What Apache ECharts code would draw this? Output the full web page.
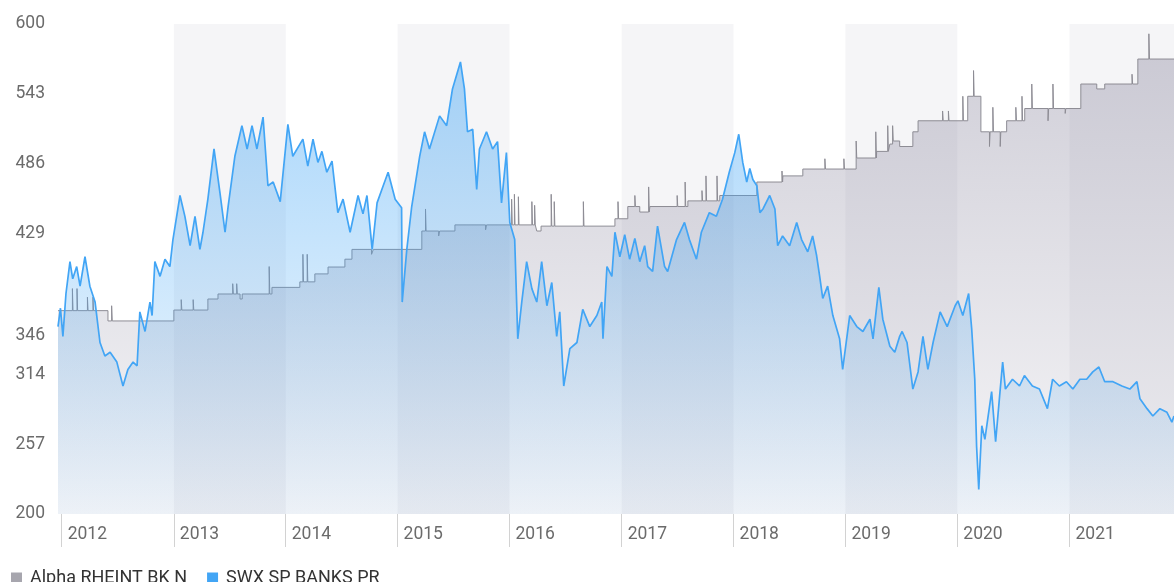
<!DOCTYPE html>
<html><head><meta charset="utf-8">
<script src="https://cdn.jsdelivr.net/npm/echarts@6/dist/echarts.min.js"></script>
<style>html,body{margin:0;padding:0;background:#fff}#c{width:1174px;height:582px}</style>
</head><body><div id="c"></div>
<script>
// ---- data ----
const seriesNames = ['Alpha RHEINT BK N', 'SWX SP BANKS PR'];
const yLabels = [200, 257, 314, 346, 429, 486, 543, 600];
const yearLabels = ['2012','2013','2014','2015','2016','2017','2018','2019','2020','2021'];
const shadedYears = ['2013','2015','2017','2019','2021'];
const xStart = '2011-12-20';
const xEnd = '2021-12-08';

const alphaRheint = [
['2011-12-20',366],
['2012-02-05',384],['2012-02-07',366],['2012-02-20',384],['2012-02-22',366],
['2012-03-25',377],['2012-03-27',366],['2012-04-12',377],['2012-04-14',366],
['2012-05-31',357.6],['2012-06-12',370],['2012-06-14',357.6],
['2013-01-01',366.5],['2013-01-25',375],['2013-01-27',366.5],['2013-03-05',375],['2013-03-07',366.5],
['2013-04-22',375.5],['2013-05-25',379.6],
['2013-07-12',388],['2013-07-14',379.6],['2013-07-25',388],['2013-07-27',379.6],
['2013-08-05',375.5],['2013-08-12',379.6],['2013-11-08',402],['2013-11-10',379.6],
['2013-11-17',385],['2014-02-16',389.5],
['2014-02-26',412],['2014-02-28',389.5],['2014-03-12',412],['2014-03-14',389.5],
['2014-04-06',396],['2014-05-19',401.6],['2014-07-13',408],['2014-08-05',416],
['2014-10-08',412],['2014-10-14',416],
['2015-03-21',431],['2015-04-02',449],['2015-04-04',431],['2015-05-15',427],['2015-05-18',431],
['2015-07-07',436],['2015-10-15',432],['2015-10-18',436],
['2016-01-08',457],['2016-01-10',436],['2016-01-17',461],['2016-01-19',436],
['2016-01-30',459],['2016-02-01',436],['2016-03-14',455],['2016-03-16',436],
['2016-03-23',452],['2016-03-25',436],['2016-03-30',431],['2016-04-13',435],
['2016-05-16',461],['2016-05-18',435],['2016-05-26',455],['2016-05-28',435],
['2016-08-29',455],['2016-08-31',435],['2016-12-10',441],['2016-12-20',455],['2016-12-22',441],
['2017-01-21',451],['2017-02-13',460],['2017-02-15',451],['2017-03-01',446.5],
['2017-03-30',467],['2017-04-01',446.5],['2017-04-03',451],
['2017-07-01',460],['2017-07-03',451],['2017-07-27',471],['2017-07-29',451],
['2017-08-05',455.6],['2017-09-20',464],['2017-09-22',455.6],['2017-10-03',476],['2017-10-05',455.6],
['2017-11-08',476],['2017-11-10',455.6],['2017-11-17',460],
['2018-03-18',471],['2018-06-08',480],['2018-06-10',471],['2018-06-11',476],
['2018-08-15',481.6],['2018-10-26',490],['2018-10-28',481.6],['2018-12-27',490],['2018-12-29',481.6],
['2019-02-05',504.5],['2019-02-07',490.6],['2019-04-10',512],['2019-04-12',490.6],
['2019-04-13',496],['2019-05-19',517],['2019-05-21',496],['2019-05-26',502],
['2019-06-04',517],['2019-06-06',504.5],['2019-06-27',500],
['2019-08-09',512],['2019-08-26',521],
['2019-11-14',529],['2019-11-16',521],['2019-12-03',529],['2019-12-05',521],
['2020-01-19',541],['2020-01-21',521],['2020-02-04',541],['2020-02-23',562],['2020-02-25',541],
['2020-03-18',512],['2020-04-15',500],['2020-04-17',512],['2020-04-26',532],['2020-04-28',512],
['2020-05-20',500],['2020-05-22',512],['2020-06-10',521],
['2020-07-10',532],['2020-07-12',521],['2020-07-30',541],['2020-08-01',521],
['2020-08-08',531],['2020-08-31',551],['2020-09-02',531],['2020-10-23',521],['2020-10-25',531],
['2020-11-08',551],['2020-11-10',531],['2020-12-18',527],['2020-12-20',531],
['2021-02-07',551],['2021-03-31',547],['2021-04-26',551],['2021-07-24',559],['2021-07-26',551],
['2021-08-12',571.4],['2021-09-17',592],['2021-09-19',571.4],['2021-12-08',571.4]
];

const swxBanks = [
['2011-12-20',353],['2011-12-28',368],['2012-01-05',345],['2012-01-15',380],['2012-01-28',406],['2012-02-06',392],['2012-02-19',402],['2012-03-01',386],['2012-03-17',410],['2012-04-02',386],['2012-04-19',373],['2012-05-05',340],['2012-05-21',329],['2012-06-07',332],['2012-06-29',324],['2012-07-19',304.5],['2012-08-04',318],['2012-08-21',324],['2012-09-03',321],['2012-09-12',365],['2012-09-29',349],['2012-10-15',373],['2012-10-22',362],['2012-10-31',406],['2012-11-17',394],['2012-12-03',408],['2012-12-19',402],['2012-12-29',424],
['2013-01-21',460],['2013-02-06',443],['2013-02-23',419],['2013-03-11',443],['2013-03-27',416],['2013-04-06',430],['2013-04-22',457],['2013-05-12',498],['2013-05-31',463],['2013-06-17',430],['2013-06-27',451],['2013-07-19',492],['2013-08-11',517],['2013-08-28',498],['2013-09-13',517],['2013-09-29',498],['2013-10-19',524],['2013-11-04',468],['2013-11-21',471],['2013-12-14',455],
['2014-01-08',518],['2014-01-24',492],['2014-02-26',506],['2014-03-14',484],['2014-03-31',506],['2014-04-16',487],['2014-04-29',496],['2014-05-15',479],['2014-06-01',488],['2014-06-20',446],['2014-07-07',457],['2014-07-30',430],['2014-08-25',460],['2014-09-10',445],['2014-09-23',460],['2014-10-10',416],['2014-10-26',454],['2014-11-15',468],['2014-12-01',479],['2014-12-24',457],
['2015-01-14',450],['2015-01-16',373],['2015-01-31',416],['2015-02-16',451],['2015-03-14',492],['2015-03-30',512],['2015-04-15',498],['2015-05-18',525],['2015-06-10',517],['2015-06-29',547],['2015-07-25',569],['2015-08-07',547],['2015-08-17',512],['2015-09-03',514],['2015-09-16',465],['2015-09-25',498],['2015-10-18',512],['2015-11-07',498],['2015-11-23',504],['2015-12-06',454],['2015-12-22',495],
['2016-01-02',438],['2016-01-18',424],['2016-01-28',343],['2016-02-10',373],['2016-02-26',406],['2016-03-14',384],['2016-03-30',373],['2016-04-15',406],['2016-05-02',370],['2016-05-18',389],['2016-06-03',345],['2016-06-13',365],['2016-06-26',304.5],['2016-07-16',335],['2016-08-08',340],['2016-08-27',367],['2016-09-19',353],['2016-10-12',362],['2016-10-28',373],['2016-11-01',343],['2016-11-14',402],['2016-11-30',394],['2016-12-10',430],['2016-12-26',410],
['2017-01-11',428],['2017-01-27',408],['2017-02-13',425],['2017-03-01',406],['2017-03-17',419],['2017-03-27',402],['2017-04-12',398],['2017-04-28',435],['2017-05-21',402],['2017-05-31',398],['2017-06-29',424],['2017-07-25',438],['2017-08-10',424],['2017-09-02',408],['2017-09-18',430],['2017-10-14',446],['2017-11-06',443],['2017-11-26',457],['2017-12-18',479],
['2018-01-05',495],['2018-01-18',510],['2018-01-31',487],['2018-02-13',471],['2018-02-23',482],['2018-03-05',473],['2018-03-18',468],['2018-03-28',446],['2018-04-07',449],['2018-04-29',460],['2018-05-16',449],['2018-05-25',419],['2018-06-10',427],['2018-07-03',419],['2018-07-26',438],['2018-08-11',424],['2018-08-31',414],['2018-09-16',427],['2018-09-29',411],['2018-10-09',394],['2018-10-19',376],['2018-11-04',386],['2018-11-21',362],['2018-12-13',343],['2018-12-23',318],
['2019-01-15',362],['2019-02-07',353],['2019-02-27',349],['2019-03-22',359],['2019-04-01',343],['2019-04-20',385],['2019-05-03',359],['2019-05-26',337],['2019-06-11',332],['2019-06-27',345],['2019-07-05',349],['2019-07-21',340],['2019-08-09',302],['2019-08-26',316],['2019-09-11',345],['2019-09-27',318],['2019-10-14',340],['2019-11-06',365],['2019-11-29',353],['2019-12-25',370],
['2020-01-03',374],['2020-01-19',362],['2020-02-07',380],['2020-02-17',351],['2020-02-27',310],['2020-03-04',255],['2020-03-11',220],['2020-03-21',272],['2020-03-31',261],['2020-04-09',277],['2020-04-22',300],['2020-05-05',259],['2020-05-18',296],['2020-05-28',324],['2020-06-06',302],['2020-06-29',310],['2020-07-22',304.5],['2020-08-07',313],['2020-09-02',304.5],['2020-09-25',302],['2020-10-21',286],['2020-11-07',310],['2020-11-29',304.5],['2020-12-22',308],
['2021-01-12',302],['2021-02-04',310],['2021-02-26',310],['2021-03-18',316],['2021-04-07',320],['2021-04-26',308],['2021-05-23',308],['2021-06-21',304.5],['2021-07-17',302],['2021-08-09',308],['2021-08-19',294],['2021-09-11',286],['2021-09-30',280],['2021-10-23',286],['2021-11-15',283],['2021-12-01',275],['2021-12-08',280]
];

// ---- chart ----
const DAY = 86400000;
const bands = shadedYears.map(y => {
  const next = String(Number(y) + 1) + '-01-01';
  return [{ xAxis: y + '-01-01' }, { xAxis: next > xEnd ? xEnd : next }];
});
const font = 'Roboto, "Noto Sans", sans-serif';

const chart = echarts.init(document.getElementById('c'), null, { renderer: 'canvas' });
chart.setOption({
  animation: false,
  backgroundColor: '#ffffff',
  grid: { left: 58, right: 0, top: 24, bottom: 68, containLabel: false },
  xAxis: {
    type: 'time', min: xStart, max: xEnd,
    minInterval: 365 * DAY, maxInterval: 366 * DAY,
    axisLine: { show: false },
    axisTick: { show: true, length: 33, lineStyle: { color: '#d2d2d2', width: 1 } },
    axisLabel: {
      formatter: function (v) {
        const y = String(new Date(v + DAY / 2).getFullYear());
        return yearLabels.indexOf(y) >= 0 ? y : '';
      },
      showMinLabel: false, showMaxLabel: false,
      align: 'left', padding: [0, 0, 0, 6], margin: 12,
      color: '#6b6b6b', fontSize: 17.5, fontFamily: font
    },
    splitLine: { show: false }
  },
  yAxis: {
    type: 'value', min: 200, max: 600,
    axisLine: { show: false }, axisTick: { show: false }, splitLine: { show: false },
    axisLabel: { customValues: yLabels, color: '#6b6b6b', fontSize: 17.5, margin: 13, fontFamily: font }
  },
  legend: {
    left: 6, top: 564, itemWidth: 11, itemHeight: 11, itemGap: 20, icon: 'rect',
    textStyle: { fontSize: 18, color: '#333', fontFamily: font, padding: [0, 0, 0, 3] },
    data: [
      { name: seriesNames[0], itemStyle: { color: '#a7a6ae' } },
      { name: seriesNames[1], itemStyle: { color: '#42a5f5' } }
    ]
  },
  series: [
    {
      name: seriesNames[0], type: 'line', step: 'end', data: alphaRheint,
      showSymbol: false, symbol: 'none', z: 2, color: '#8d8c94',
      lineStyle: { color: '#8d8c94', width: 1 },
      areaStyle: {
        color: new echarts.graphic.LinearGradient(0, 0, 0, 1, [
          { offset: 0, color: 'rgba(145,142,164,0.62)' },
          { offset: 1, color: 'rgba(145,142,164,0.12)' }
        ])
      },
      markArea: { silent: true, itemStyle: { color: '#f5f5f7' }, data: bands }
    },
    {
      name: seriesNames[1], type: 'line', data: swxBanks,
      showSymbol: false, symbol: 'none', z: 3, color: '#42a5f5',
      lineStyle: { color: '#42a5f5', width: 1.7 },
      areaStyle: {
        color: new echarts.graphic.LinearGradient(0, 0, 0, 1, [
          { offset: 0, color: 'rgba(66,165,245,0.66)' },
          { offset: 1, color: 'rgba(66,165,245,0.07)' }
        ])
      }
    }
  ]
});
</script>
</body></html>
